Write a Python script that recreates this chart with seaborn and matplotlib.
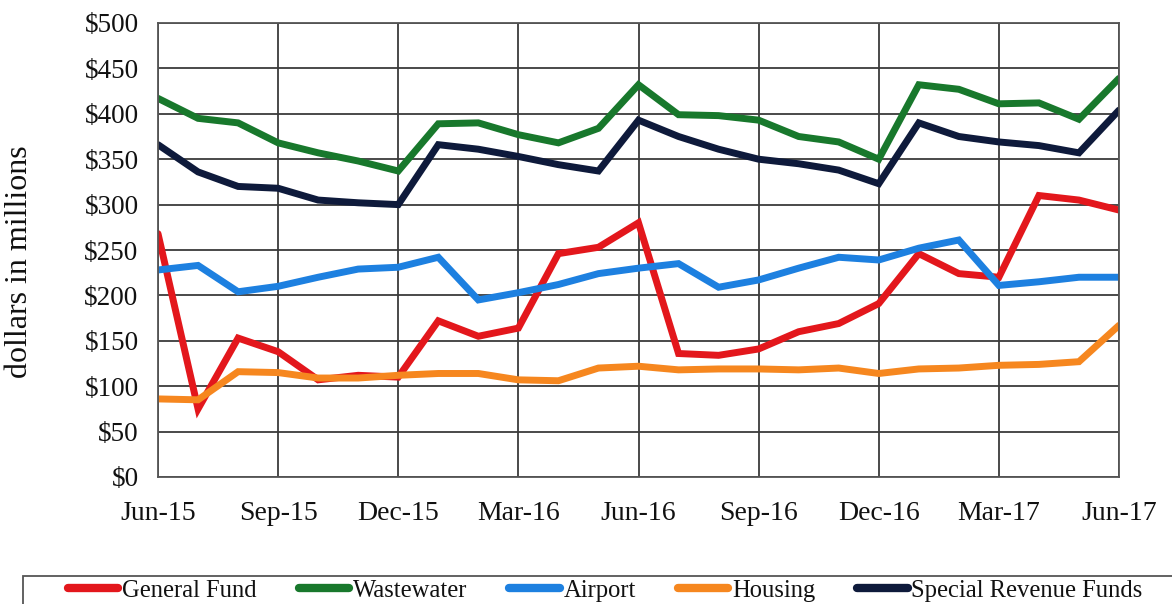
import numpy as np
import pandas as pd
import matplotlib
matplotlib.use("Agg")
import matplotlib.pyplot as plt
import seaborn as sns
from matplotlib.patches import Rectangle

months = ["Jun-15", "Jul-15", "Aug-15", "Sep-15", "Oct-15", "Nov-15", "Dec-15",
          "Jan-16", "Feb-16", "Mar-16", "Apr-16", "May-16", "Jun-16", "Jul-16",
          "Aug-16", "Sep-16", "Oct-16", "Nov-16", "Dec-16", "Jan-17", "Feb-17",
          "Mar-17", "Apr-17", "May-17", "Jun-17"]

general_fund = [268, 75, 153, 138, 107, 112, 110, 172, 155, 164, 246, 253, 280,
                136, 134, 141, 160, 169, 191, 246, 224, 220, 310, 305, 294]
wastewater = [417, 395, 390, 368, 357, 348, 337, 389, 390, 377, 368, 384, 432,
              399, 398, 393, 375, 369, 350, 432, 427, 411, 412, 394, 439]
airport = [228, 233, 204, 210, 220, 229, 231, 242, 195, 203, 212, 224, 230,
           235, 209, 217, 230, 242, 239, 252, 261, 211, 215, 220, 220]
housing = [86, 85, 116, 115, 109, 109, 112, 114, 114, 107, 106, 120, 122,
           118, 119, 119, 118, 120, 114, 119, 120, 123, 124, 127, 167]
special_revenue = [366, 336, 320, 318, 305, 302, 300, 366, 361, 353, 344, 337, 393,
                   375, 361, 350, 345, 338, 323, 390, 375, 369, 365, 357, 404]

series_names = ["General Fund", "Wastewater", "Airport", "Housing", "Special Revenue Funds"]
series_values = [general_fund, wastewater, airport, housing, special_revenue]
colors = ["#e3171c", "#18782c", "#1d80e0", "#f6871f", "#0e1a3b"]

y_ticks = [0, 50, 100, 150, 200, 250, 300, 350, 400, 450, 500]
y_tick_labels = ["$0", "$50", "$100", "$150", "$200", "$250", "$300", "$350", "$400", "$450", "$500"]

rows = []
for name, vals in zip(series_names, series_values):
    for i, v in enumerate(vals):
        rows.append({"idx": i, "month": months[i], "value": v, "series": name})
df = pd.DataFrame(rows)

sns.set_theme(style="white")
plt.rcParams["font.family"] = ["Liberation Serif", "DejaVu Serif"]

fig = plt.figure(figsize=(11.72, 6.04), dpi=100)
ax = fig.add_axes([158 / 1172, 1 - 477 / 604, (1119 - 158) / 1172, (477 - 23) / 604])

sns.lineplot(data=df, x="idx", y="value", hue="series", hue_order=series_names,
             palette=colors, linewidth=5, ax=ax, legend=False, sort=False)

for line in ax.lines:
    line.set_solid_joinstyle("miter")

ax.set_xlim(0, len(months) - 1)
ax.set_ylim(0, 500)
xt = list(range(0, len(months), 3))
ax.set_xticks(xt)
ax.set_xticklabels([months[i] for i in xt], fontsize=20, color="#111111")
ax.set_yticks(y_ticks)
ax.set_yticklabels(y_tick_labels, fontsize=19.5, color="#111111")
ax.tick_params(axis="both", direction="out", length=8, width=1.2, color="#333333", pad=6)
ax.tick_params(axis="x", pad=9)
ax.grid(True, color="#3a3a3a", linewidth=1.3)
ax.set_axisbelow(True)
for s in ax.spines.values():
    s.set_visible(True)
    s.set_color("#555555")
    s.set_linewidth(1.3)
ax.set_xlabel("")
ax.set_ylabel("dollars in millions", fontsize=23, color="#111111")
ax.yaxis.set_label_coords(-0.129, 0.474)

handles = [plt.Line2D([0], [0], color=c, linewidth=6, solid_capstyle="round") for c in colors]
leg = fig.legend(handles, series_names, loc="upper left",
                 bbox_to_anchor=(58 / 1172, 1 - 570 / 604), ncol=5, frameon=False,
                 fontsize=17.7, handlelength=2.06, handletextpad=0.15, columnspacing=1.7,
                 borderaxespad=0)
for t in leg.get_texts():
    t.set_color("#111111")

fig.patches.append(Rectangle((23 / 1172, -0.05), 1.2, (1 - 576 / 604) + 0.05,
                             transform=fig.transFigure, fill=False,
                             edgecolor="#555555", linewidth=1.3, figure=fig))

fig.savefig("out.png", dpi=100, facecolor="white")
